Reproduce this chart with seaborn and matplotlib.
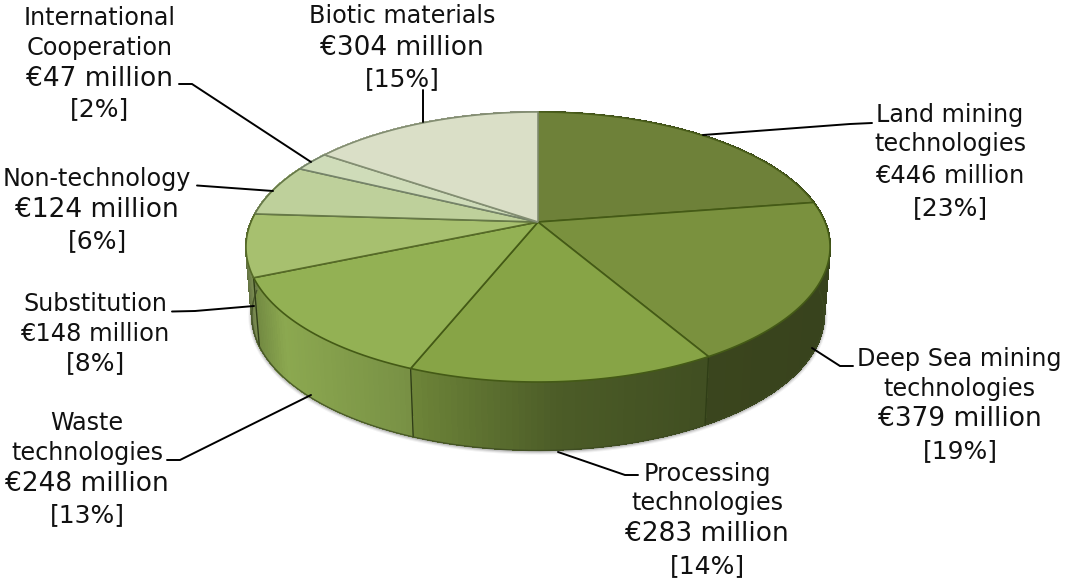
import numpy as np
import matplotlib
matplotlib.use("Agg")
import matplotlib.pyplot as plt
from matplotlib.transforms import Transform, Affine2D
from matplotlib.path import Path
import seaborn as sns

categories = ["Land mining technologies", "Deep Sea mining technologies", "Processing technologies",
              "Waste technologies", "Substitution", "Non-technology",
              "International Cooperation", "Biotic materials"]
values = [446, 379, 283, 248, 148, 124, 47, 304]
percents = [23, 19, 14, 13, 8, 6, 2, 15]
top_colors = ["#6e8139", "#7a913e", "#87a446", "#93b154", "#a7c06f", "#bed09b", "#cfdcb9", "#dadfc7"]
edge_colors = ["#4a5e1a", "#445a16", "#445a16", "#445a16", "#566a28", "#667848", "#75836a", "#838e72"]

name_lines = [["Land mining", "technologies"], ["Deep Sea mining", "technologies"],
              ["Processing", "technologies"], ["Waste", "technologies"], ["Substitution"],
              ["Non-technology"], ["International", "Cooperation"], ["Biotic materials"]]
# per-line (x centre, y centre), in pixels
name_pos = [[(950, 115), (950, 144)], [(959, 359), (959, 389)], [(707, 474), (707, 503)],
            [(87, 423), (87, 453)], [(95, 304)], [(97, 179)], [(100, 18), (100, 48)], [(402, 16)]]
value_pos = [(950, 176), (960, 419), (707, 534), (87, 484), (95, 334), (97, 210), (100, 79), (402, 48)]
pct_pos = [(950, 208), (960, 451), (707, 566), (87, 515), (95, 363), (97, 241), (100, 109), (402, 79)]
value_sizes = [17.4, 19, 19, 19, 17.4, 19, 19, 19]
leaders = [[(703, 135), (850, 124), (872, 123)], [(812, 348), (840, 366), (853, 366)],
           [(558, 452), (625, 475), (638, 475)], [(311, 395), (180, 460), (167, 460)],
           [(254, 306), (195, 311), (172, 311.5)], [(273, 191), (197, 185.5)],
           [(311, 162), (192, 84), (179, 84)], [(423, 122), (423, 90)]]

APEX = (538.0, 222.0)
A, B, K = 287.0, 130.4, 0.185
DEPTH, SHRINK = 68.0, 0.98
shade_x = [245, 256, 285, 405, 560, 700, 825]
shade_f = [0.55, 0.78, 0.95, 0.82, 0.56, 0.48, 0.46]


def project(u, v):
    w = 1 + K * v
    return APEX[0] + A * u / w, APEX[1] - B * v / w


class Tilt(Transform):
    input_dims = output_dims = 2
    has_inverse = False

    def transform_non_affine(self, xy):
        xy = np.asarray(xy, float)
        return np.column_stack(project(xy[:, 0], xy[:, 1]))

    def transform_path_non_affine(self, path):
        polys = path.to_polygons(Affine2D().scale(2000), closed_only=True)
        verts = np.vstack(polys) / 2000.0
        return Path(self.transform_non_affine(verts), closed=True)


sns.set_theme(style="white", rc={"font.family": ["DejaVu Sans"]})
fig = plt.figure(figsize=(10.65, 5.79), dpi=100)
ax = fig.add_axes([0, 0, 1, 1])
palette = sns.color_palette(top_colors)

wedges, _ = ax.pie(values, colors=palette, startangle=90, counterclock=False, radius=1,
                   wedgeprops=dict(linewidth=1.2))
tilt = Tilt() + ax.transData
for w, c in zip(wedges, edge_colors):
    w.set_transform(tilt)
    w.set_edgecolor(c)
    w.set_zorder(3)
ax.set_aspect("auto")
ax.set_xlim(0, 1065)
ax.set_ylim(579, 0)
ax.axis("off")


def bottom(x, y):
    return APEX[0] + (x - APEX[0]) * SHRINK, y + DEPTH


# side wall: thin shaded strips per wedge
for w, col in zip(wedges, palette):
    a = np.radians(np.linspace(w.theta1, w.theta2, max(3, int(abs(w.theta2 - w.theta1)))))
    x, y = project(np.cos(a), np.sin(a))
    bx, by = bottom(x, y)
    for i in range(len(a) - 1):
        f = np.interp((x[i] + x[i + 1]) / 2, shade_x, shade_f)
        c = tuple(np.array(col) * f)
        ax.fill([x[i], x[i + 1], bx[i + 1], bx[i]], [y[i], y[i + 1], by[i + 1], by[i]],
                facecolor=c, edgecolor=c, linewidth=0.8, antialiased=False, zorder=1)
    # seam between wedges
    ax.plot([x[0], bx[0]], [y[0], by[0]], color="#2f3d16", lw=1.0, zorder=2)

# rim and soft shadow at the bottom of the wall
a = np.radians(np.linspace(180, 360, 300))
x, y = project(np.cos(a), np.sin(a))
bx, by = bottom(x, y)
ax.plot(bx, by + 0.5, color="#3d4a22", lw=1.0, alpha=0.8, zorder=2)
for lw, al in zip([5, 3.5, 2], [0.05, 0.08, 0.12]):
    ax.plot(bx, by + 1.2, color="black", lw=lw, alpha=al, zorder=0)

for pts in leaders:
    px, py = zip(*pts)
    ax.plot(px, py, color="black", lw=1.4, solid_joinstyle="miter", zorder=4)

NAME_FS, PCT_FS = 17.2, 18
txt = dict(ha="center", va="center", color="#111111", zorder=5)
for i, v in enumerate(values):
    for line, (tx, ty) in zip(name_lines[i], name_pos[i]):
        ax.text(tx, ty, line, fontsize=NAME_FS, **txt)
    ax.text(*value_pos[i], f"€{v} million", fontsize=value_sizes[i], **txt)
    ax.text(*pct_pos[i], f"[{percents[i]}%]", fontsize=PCT_FS, **txt)

fig.savefig("out.png", dpi=100, facecolor="white")
